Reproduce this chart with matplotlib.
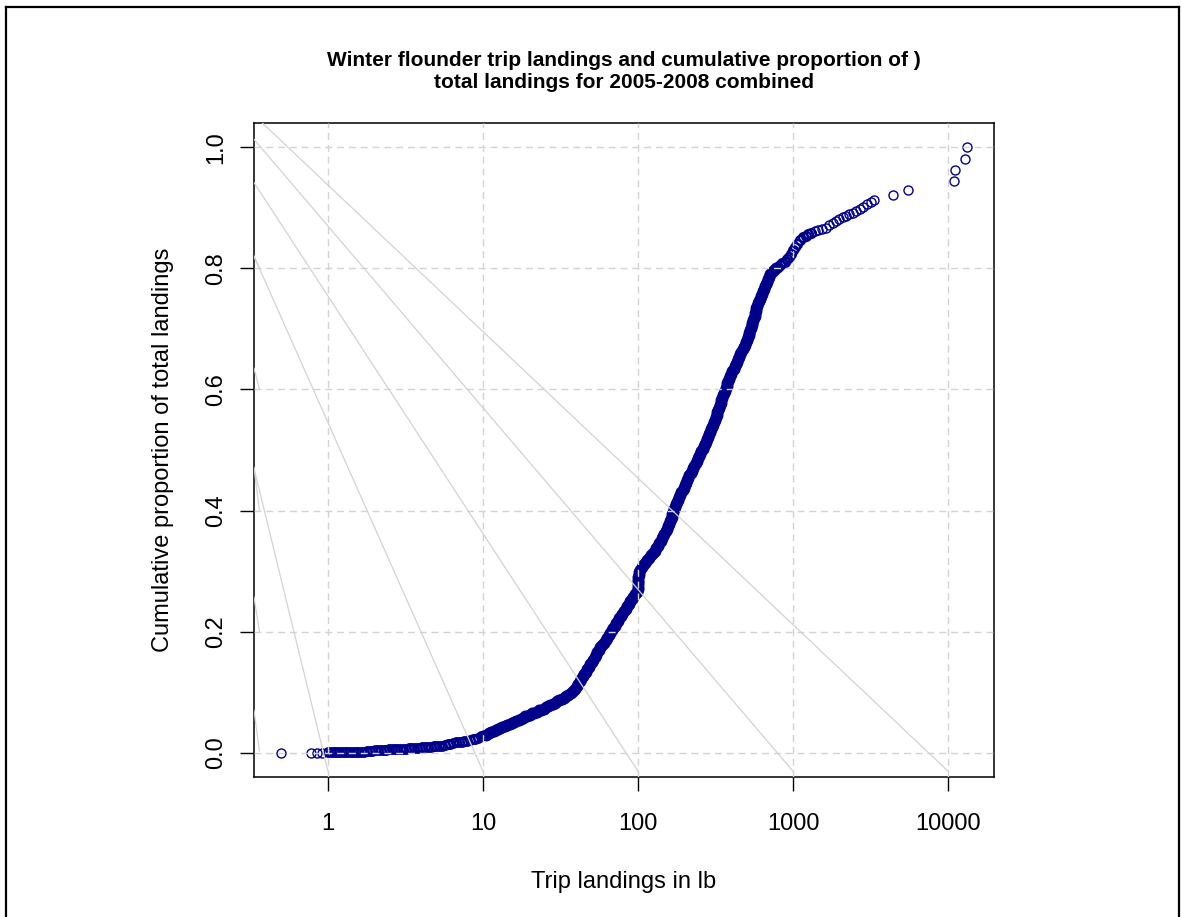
import numpy as np
import matplotlib
matplotlib.use("Agg")
import matplotlib.pyplot as plt
from matplotlib.lines import Line2D

plt.rcParams['font.family'] = ['Liberation Sans', 'DejaVu Sans']

# ---- data (trip landings in lb vs cumulative proportion) ----
first_lb = [0.5, 0.78, 0.85, 0.92]
first_prop = [0.0, 0.0, 0.0, 0.0]

low_lb = [1.00, 1.04, 1.09, 1.13, 1.18, 1.23, 1.28, 1.33, 1.39, 1.45, 1.51,
          1.57, 1.64, 1.71, 1.78, 1.85, 1.93, 2.01, 2.1, 2.19, 2.28, 2.37, 2.47, 2.58, 2.69, 2.8,
          2.92, 3.04, 3.17, 3.3, 3.44, 3.59, 3.74, 3.9, 4.06, 4.23, 4.41, 4.6, 4.79, 5.0, 5.2, 5.4,
          5.65, 5.9, 6.15, 6.4, 6.65, 6.95, 7.25, 7.55, 7.9, 8.2, 8.55, 8.9, 9.3, 9.7, 10.1]
low_prop = [0.0005, 0.0006, 0.0007, 0.0008, 0.0009, 0.001, 0.0011, 0.0012,
            0.0013, 0.0014, 0.0015, 0.0016, 0.0018, 0.002, 0.0022, 0.0025, 0.003, 0.0045, 0.0048,
            0.005, 0.0052, 0.0054, 0.0056, 0.0058, 0.006, 0.0062, 0.0065, 0.0068, 0.007, 0.0073,
            0.0076, 0.0079, 0.0082, 0.0085, 0.0088, 0.0092, 0.0096, 0.010, 0.0105, 0.011, 0.0115,
            0.012, 0.013, 0.014, 0.015, 0.016, 0.017, 0.018, 0.0185, 0.019, 0.020, 0.021, 0.022,
            0.0235, 0.025, 0.027, 0.029]

mid_lb = [10.5, 10.9, 11.3, 11.7, 12.1, 12.5, 12.9, 13.3, 13.8, 14.3, 14.8, 15.3, 15.8, 16.3, 16.9,
          17.5, 18.1, 18.7, 19.3, 20, 20.7, 21.4, 22.1, 22.9, 23.7, 24.5, 25.3, 26.2, 27.1, 28, 29,
          30, 31, 32, 33.1, 34.2, 35.4, 36.6, 37.8]
mid_prop = [0.030, 0.032, 0.034, 0.036, 0.038, 0.039, 0.041, 0.042, 0.044, 0.046, 0.047, 0.049,
            0.051, 0.053, 0.054, 0.056, 0.058, 0.060, 0.061, 0.063, 0.065, 0.066, 0.068, 0.070,
            0.071, 0.073, 0.075, 0.077, 0.079, 0.081, 0.083, 0.085, 0.087, 0.089, 0.091, 0.093,
            0.096, 0.099, 0.102]

steep_lb = [39, 40, 41, 42, 43, 44, 45, 46, 47, 48, 49, 50, 51.2, 52.4, 53.5, 54.5, 55.5, 57, 58.5,
            60, 61.5, 63, 64.5, 66, 67.5, 69, 70.5, 72, 73.5, 75, 77, 79, 81, 83, 85, 87, 89, 91,
            93, 95.5, 98, 100, 100, 100, 100, 100, 100, 100.5, 101.5, 103, 105, 108, 111, 114, 117,
            120, 124, 128, 131, 134, 137, 140, 142.5, 145, 147.5, 150, 152.5, 155, 157.5, 160, 162,
            164, 166, 168, 170, 172, 175, 178, 181, 184, 187, 190, 193, 196, 199, 202, 206, 210,
            214, 218, 222, 226, 230, 234, 238, 242, 246, 250, 255, 260, 265, 269, 273, 277, 281,
            285, 290, 295, 300, 304, 308, 312, 316, 320, 324, 328, 332, 336, 340, 344, 348, 352,
            356, 361, 366, 371, 376, 381, 386, 392, 398, 405, 413, 420, 427, 434, 441, 448, 455,
            463, 472, 481, 488, 495, 502, 508, 514, 520, 526, 532, 538, 544, 550, 556, 562, 567,
            572, 578, 585, 592, 600, 608, 617, 626, 635, 645, 655, 665, 676, 688, 700, 712, 725,
            745, 770]
steep_prop = [0.106, 0.110, 0.114, 0.118, 0.122, 0.126, 0.130, 0.134, 0.138, 0.142, 0.146, 0.150,
              0.154, 0.158, 0.162, 0.166, 0.170, 0.174, 0.178, 0.182, 0.186, 0.190, 0.194, 0.198,
              0.202, 0.206, 0.210, 0.214, 0.218, 0.222, 0.226, 0.230, 0.234, 0.238, 0.242, 0.246,
              0.250, 0.254, 0.258, 0.262, 0.266, 0.270, 0.274, 0.278, 0.282, 0.286, 0.290, 0.294,
              0.298, 0.302, 0.306, 0.310, 0.314, 0.318, 0.322, 0.326, 0.330, 0.334, 0.338, 0.342,
              0.346, 0.350, 0.354, 0.358, 0.362, 0.366, 0.370, 0.374, 0.378, 0.382, 0.386, 0.390,
              0.394, 0.398, 0.402, 0.406, 0.410, 0.414, 0.418, 0.422, 0.426, 0.430, 0.434, 0.438,
              0.442, 0.446, 0.450, 0.454, 0.458, 0.462, 0.466, 0.470, 0.474, 0.478, 0.482, 0.486,
              0.490, 0.494, 0.498, 0.502, 0.506, 0.510, 0.514, 0.518, 0.522, 0.526, 0.530, 0.534,
              0.538, 0.542, 0.546, 0.550, 0.554, 0.558, 0.562, 0.566, 0.570, 0.574, 0.578, 0.582,
              0.586, 0.590, 0.594, 0.598, 0.602, 0.606, 0.610, 0.614, 0.618, 0.622, 0.626, 0.630,
              0.634, 0.638, 0.642, 0.646, 0.650, 0.654, 0.658, 0.662, 0.666, 0.670, 0.674, 0.678,
              0.682, 0.686, 0.690, 0.694, 0.698, 0.702, 0.706, 0.710, 0.714, 0.718, 0.722, 0.726,
              0.730, 0.734, 0.738, 0.742, 0.746, 0.750, 0.754, 0.758, 0.762, 0.766, 0.770, 0.774,
              0.778, 0.782, 0.786, 0.790, 0.794, 0.798, 0.800]

bend_lb = [795, 820, 850, 880, 910, 940, 970, 1000, 1030, 1060, 1100, 1150, 1200, 1250, 1300]
bend_prop = [0.802, 0.805, 0.808, 0.811, 0.815, 0.819, 0.824, 0.830, 0.836, 0.841, 0.846, 0.851,
             0.854, 0.857, 0.859]

high_lb = [1380, 1450, 1530, 1620, 1700, 1800, 1880, 1980, 2100, 2190, 2300, 2420, 2540, 2680,
           2800, 3000, 3180, 3310, 4380, 5480, 10800, 11100, 12700, 13100]
high_prop = [0.861, 0.863, 0.865, 0.867, 0.871, 0.875, 0.878, 0.881, 0.884, 0.886, 0.889, 0.892,
             0.895, 0.898, 0.902, 0.906, 0.909, 0.913, 0.921, 0.929, 0.944, 0.962, 0.980, 1.000]

trip_lb = first_lb + low_lb + mid_lb + steep_lb + bend_lb + high_lb
cum_prop = first_prop + low_prop + mid_prop + steep_prop + bend_prop + high_prop

# grey reference lines: from the left edge down to the bottom at these x values
ref_end_x = [10000, 1000, 100, 10, 1]
ref_start_y = [1.053, 1.013, 0.9415, 0.820, 0.470]
ref_end_y = -0.031
# short grey stubs at the left edge
stub_start_y = [0.820, 0.635, 0.471, 0.257, 0.070]
stub_end_y = [0.800, 0.600, 0.400, 0.200, 0.003]
stub_end_x = 0.361

x_ticks = [1, 10, 100, 1000, 10000]
x_tick_labels = ["1", "10", "100", "1000", "10000"]
y_ticks = [0.0, 0.2, 0.4, 0.6, 0.8, 1.0]
y_tick_labels = ["0.0", "0.2", "0.4", "0.6", "0.8", "1.0"]

title_lines = ["Winter flounder trip landings and cumulative proportion of )",
               "total landings for 2005-2008 combined"]
xlabel = "Trip landings in lb"
ylabel = "Cumulative proportion of total landings"

# ---- figure ----
W, H = 1182, 917
fig = plt.figure(figsize=(W / 100, H / 100), dpi=100)
ax = fig.add_axes([254 / W, 1 - 777 / H, 740 / W, 654 / H])
ax.set_xscale('log')

lo, hi = np.log10(min(trip_lb)), np.log10(max(trip_lb))
r = hi - lo
xl = (10 ** (lo - 0.04 * r), 10 ** (hi + 0.04 * r))
ax.set_xlim(*xl)
ax.set_ylim(-0.04, 1.04)

grey = '#D3D3D3'
navy = '#00008B'
# isolated trips: thin rings; dense parts (many overlapping trips) look like a solid band
ax.plot(first_lb, first_prop, linestyle='none', marker='o', markersize=6.5,
        markerfacecolor='none', markeredgecolor=navy, markeredgewidth=1.0, zorder=2)
ax.plot(low_lb, low_prop, linestyle='none', marker='o', markersize=6.2,
        markerfacecolor='none', markeredgecolor=navy, markeredgewidth=1.6, zorder=2)
ax.plot(mid_lb + steep_lb, mid_prop + steep_prop, linestyle='none', marker='o', markersize=6.0,
        markerfacecolor='none', markeredgecolor=navy, markeredgewidth=2.6, zorder=2)
ax.plot(bend_lb, bend_prop, linestyle='none', marker='o', markersize=6.4,
        markerfacecolor='none', markeredgecolor=navy, markeredgewidth=1.6, zorder=2)
ax.plot(high_lb, high_prop, linestyle='none', marker='o', markersize=6.5,
        markerfacecolor='none', markeredgecolor=navy, markeredgewidth=1.0, zorder=2)

for xv in x_ticks:
    ax.axvline(xv, color=grey, lw=1.0, dashes=(5, 3.5), zorder=3)
for yv in y_ticks:
    ax.axhline(yv, color=grey, lw=1.0, dashes=(5, 3.5), zorder=3)

for ex, sy in zip(ref_end_x, ref_start_y):
    ax.plot([xl[0], ex], [sy, ref_end_y], color=grey, lw=0.9, zorder=3)
for sy, ey in zip(stub_start_y, stub_end_y):
    ax.plot([xl[0], stub_end_x], [sy, ey], color=grey, lw=0.9, zorder=3)

ax.minorticks_off()
ax.set_xticks(x_ticks)
ax.set_xticklabels(x_tick_labels)
ax.set_yticks(y_ticks)
ax.set_yticklabels(y_tick_labels, rotation=90, va='center')
ax.tick_params(axis='both', direction='out', length=10, width=1.0, labelsize=17, colors='black')
ax.tick_params(axis='x', pad=16)
ax.tick_params(axis='y', pad=9)
for s in ax.spines.values():
    s.set_linewidth(1.1)

ax.set_xlabel(xlabel, fontsize=17)
ax.xaxis.set_label_coords(0.5, (777 - 871) / 654)
ax.set_ylabel(ylabel, fontsize=17)
ax.yaxis.set_label_coords((174 - 254) / 740, 0.5)

fig.text(624 / W, 1 - 60 / H, title_lines[0], ha='center', va='center', fontsize=15,
         fontweight='bold')
fig.text(624 / W, 1 - 83 / H, title_lines[1], ha='center', va='center', fontsize=15,
         fontweight='bold')

# outer frame
fig.add_artist(Line2D([6 / W, 6 / W], [0, 1 - 7 / H], color='black', lw=1.6, transform=fig.transFigure))
fig.add_artist(Line2D([6 / W, 1179 / W], [1 - 7 / H, 1 - 7 / H], color='black', lw=1.6, transform=fig.transFigure))
fig.add_artist(Line2D([1179 / W, 1179 / W], [0, 1 - 7 / H], color='black', lw=1.6, transform=fig.transFigure))

fig.savefig("out.png", dpi=100)
